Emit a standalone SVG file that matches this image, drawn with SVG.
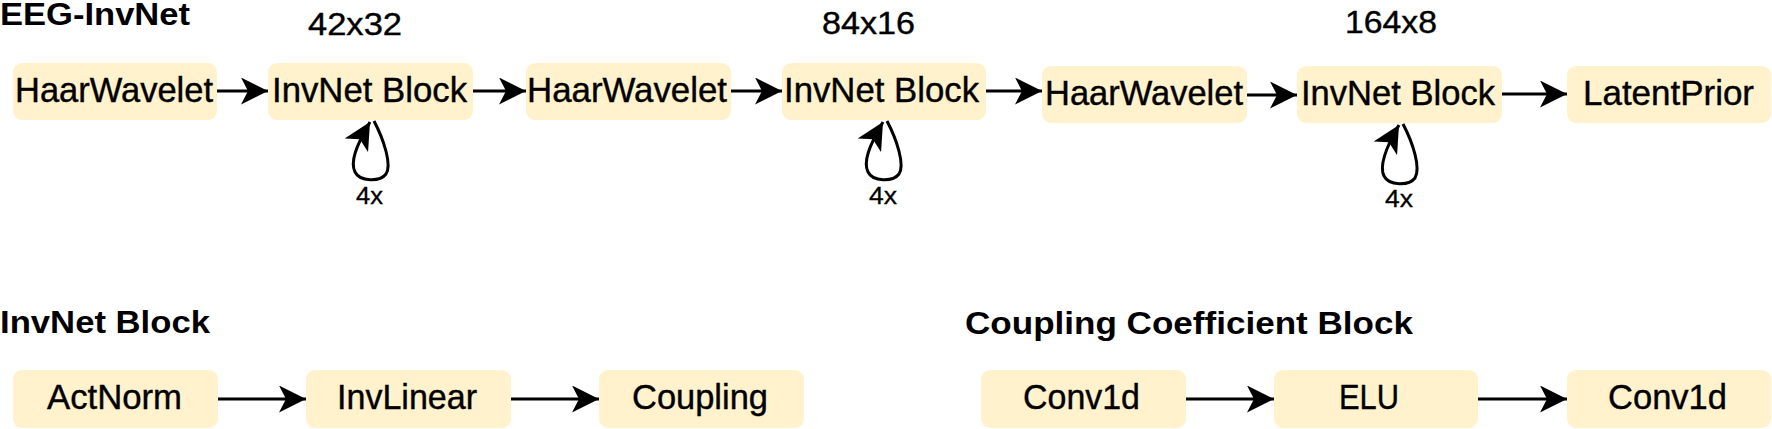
<svg xmlns="http://www.w3.org/2000/svg" width="1772" height="429" viewBox="0 0 1772 429">
<style>
.box{fill:#FFF2CC;stroke:none}
.t{font-family:"Liberation Sans",Arial,Helvetica,sans-serif;font-size:35px;fill:#000;stroke:#000;stroke-width:0.4}
.lbl{font-family:"Liberation Sans",Arial,Helvetica,sans-serif;font-size:32px;fill:#000;stroke:#000;stroke-width:0.4}
.small{font-family:"Liberation Sans",Arial,Helvetica,sans-serif;font-size:24px;fill:#000;stroke:#000;stroke-width:0.3}
.title{font-family:"Liberation Sans",Arial,Helvetica,sans-serif;font-size:31px;font-weight:bold;fill:#000}
.edge{fill:none;stroke:#000;stroke-width:3}
</style>
<defs>
<marker id="arr" markerUnits="userSpaceOnUse" markerWidth="27" markerHeight="27" refX="27" refY="13.5" orient="auto" viewBox="0 0 27 27">
<path d="M0,0 L27,13.5 L0,27 L7,13.5 Z" fill="#000"/>
</marker>
</defs>
<rect width="1772" height="429" fill="#fff"/>

<text class="title" x="0" y="25" textLength="190" lengthAdjust="spacingAndGlyphs">EEG-InvNet</text>
<text class="lbl" x="308" y="35" textLength="94" lengthAdjust="spacingAndGlyphs">42x32</text>
<text class="lbl" x="822" y="34" textLength="93" lengthAdjust="spacingAndGlyphs">84x16</text>
<text class="lbl" x="1345" y="33" textLength="92" lengthAdjust="spacingAndGlyphs">164x8</text>
<text class="title" x="0" y="333" textLength="210" lengthAdjust="spacingAndGlyphs">InvNet Block</text>
<text class="title" x="965" y="334" textLength="448" lengthAdjust="spacingAndGlyphs">Coupling Coefficient Block</text>

<g id="haar1"><rect class="box" x="13" y="63" width="204" height="57" rx="9"/><text class="t" x="15" y="102" textLength="198" lengthAdjust="spacingAndGlyphs">HaarWavelet</text></g>
<g id="inv1"><rect class="box" x="268" y="63" width="205" height="57" rx="9"/><text class="t" x="272" y="102" textLength="195" lengthAdjust="spacingAndGlyphs">InvNet Block</text></g>
<g id="haar2"><rect class="box" x="526" y="63" width="205" height="57" rx="9"/><text class="t" x="527" y="102" textLength="200" lengthAdjust="spacingAndGlyphs">HaarWavelet</text></g>
<g id="inv2"><rect class="box" x="782" y="63" width="204" height="57" rx="9"/><text class="t" x="784" y="102" textLength="195" lengthAdjust="spacingAndGlyphs">InvNet Block</text></g>
<g id="haar3"><rect class="box" x="1042" y="66" width="205" height="57" rx="9"/><text class="t" x="1045" y="105" textLength="198" lengthAdjust="spacingAndGlyphs">HaarWavelet</text></g>
<g id="inv3"><rect class="box" x="1297" y="66" width="205" height="57" rx="9"/><text class="t" x="1301" y="105" textLength="194" lengthAdjust="spacingAndGlyphs">InvNet Block</text></g>
<g id="latent"><rect class="box" x="1567" y="66" width="204" height="57" rx="9"/><text class="t" x="1583" y="105" textLength="171" lengthAdjust="spacingAndGlyphs">LatentPrior</text></g>

<g id="actnorm"><rect class="box" x="13" y="370" width="205" height="58" rx="9"/><text class="t" x="47" y="409" textLength="135" lengthAdjust="spacingAndGlyphs">ActNorm</text></g>
<g id="invlinear"><rect class="box" x="306" y="370" width="205" height="58" rx="9"/><text class="t" x="337" y="409" textLength="140" lengthAdjust="spacingAndGlyphs">InvLinear</text></g>
<g id="coupling"><rect class="box" x="599" y="370" width="205" height="58" rx="9"/><text class="t" x="632" y="409" textLength="136" lengthAdjust="spacingAndGlyphs">Coupling</text></g>
<g id="conv1"><rect class="box" x="981" y="370" width="205" height="58" rx="9"/><text class="t" x="1023" y="409" textLength="117" lengthAdjust="spacingAndGlyphs">Conv1d</text></g>
<g id="elu"><rect class="box" x="1274" y="370" width="204" height="58" rx="9"/><text class="t" x="1339" y="409" textLength="60" lengthAdjust="spacingAndGlyphs">ELU</text></g>
<g id="conv2"><rect class="box" x="1567" y="370" width="204" height="58" rx="9"/><text class="t" x="1608" y="409" textLength="119" lengthAdjust="spacingAndGlyphs">Conv1d</text></g>

<g id="connectors">
<line class="edge" x1="217" y1="91" x2="268" y2="91" marker-end="url(#arr)"/>
<line class="edge" x1="473" y1="91" x2="526" y2="91" marker-end="url(#arr)"/>
<line class="edge" x1="731" y1="91" x2="782" y2="91" marker-end="url(#arr)"/>
<line class="edge" x1="986" y1="91" x2="1042" y2="91" marker-end="url(#arr)"/>
<line class="edge" x1="1247" y1="95" x2="1297" y2="95" marker-end="url(#arr)"/>
<line class="edge" x1="1502" y1="94" x2="1567" y2="94" marker-end="url(#arr)"/>
<path class="edge" d="M374,121 C384,140 392,165 386,174 C380,182 360,182 355,172 C350,162 356,146 370,122" marker-end="url(#arr)"/>
<path class="edge" d="M887,121 C897,140 905,165 899,174 C893,182 873,182 868,172 C863,162 869,146 883,122" marker-end="url(#arr)"/>
<path class="edge" d="M1403,124 C1413,143 1421,168 1415,178 C1409,186 1389,186 1384,176 C1379,166 1385,149 1399,125" marker-end="url(#arr)"/>
<line class="edge" x1="218" y1="399" x2="306" y2="399" marker-end="url(#arr)"/>
<line class="edge" x1="511" y1="399" x2="599" y2="399" marker-end="url(#arr)"/>
<line class="edge" x1="1186" y1="399" x2="1274" y2="399" marker-end="url(#arr)"/>
<line class="edge" x1="1478" y1="399" x2="1567" y2="399" marker-end="url(#arr)"/>
</g>
<text class="small" x="356" y="204" textLength="27" lengthAdjust="spacingAndGlyphs">4x</text>
<text class="small" x="869" y="204" textLength="28" lengthAdjust="spacingAndGlyphs">4x</text>
<text class="small" x="1385" y="207" textLength="28" lengthAdjust="spacingAndGlyphs">4x</text>
</svg>
